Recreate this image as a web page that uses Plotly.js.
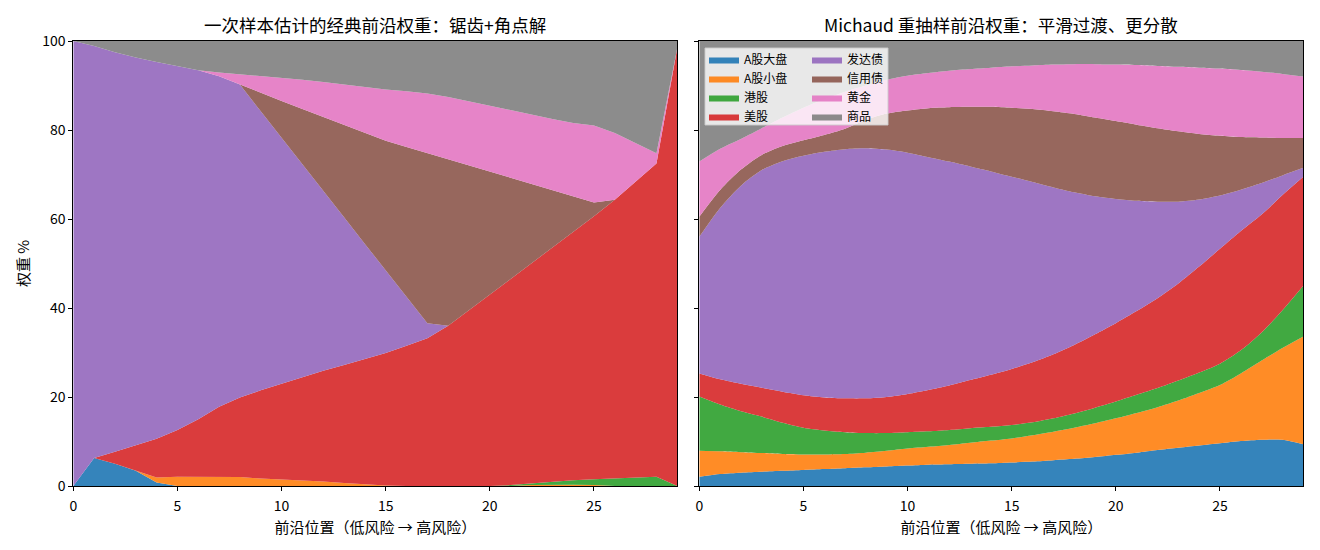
<!DOCTYPE html>
<html>
<head>
<meta charset="utf-8">
<script src="https://cdn.plot.ly/plotly-3.0.1.min.js"></script>
<style>html,body{margin:0;padding:0;background:#fff;}#chart{width:1320px;height:550px;}</style>
</head>
<body>
<div id="chart"></div>
<script>
// Frontier positions
const positions = [0,1,2,3,4,5,6,7,8,9,10,11,12,13,14,15,16,17,18,19,20,21,22,23,24,25,26,27,28,29];
const assetNames = ["A股大盘","A股小盘","港股","美股","发达债","信用债","黄金","商品"];

// Classic (one-sample) frontier weights, %
const cls_a_large = [0,6.3,5.0,3.4,0.8,0,0,0,0,0,0,0,0,0,0,0,0,0,0,0,0,0,0,0,0,0,0,0,0,0];
const cls_a_small = [0,0,0,0,1.1,2.1,2.1,2.0,2.0,1.7,1.5,1.3,1.0,0.7,0.4,0.1,0,0,0,0,0,0,0.2,0.3,0.3,0.2,0,0,0,0];
const cls_hk      = [0,0,0,0,0,0,0,0,0,0,0,0,0,0,0,0,0,0,0,0,0,0.2,0.4,0.7,1.0,1.3,1.7,1.9,2.1,0];
const cls_us      = [0,0,2.7,5.8,8.7,10.5,12.9,15.8,17.9,19.8,21.5,23.2,24.9,26.5,28.1,29.8,31.5,33.2,36.0,39.5,43.0,46.3,49.4,52.5,55.7,59.1,62.6,66.5,70.4,98.5];
const cls_dev     = [100,92.6,89.8,87.1,84.7,81.7,78.4,74.3,70.3,62.7,55.3,47.8,40.5,33.2,25.9,18.6,11.0,3.4,0,0,0,0,0,0,0,0,0,0,0,0];
const cls_credit  = [0,0,0,0,0,0,0,0,0,4.2,8.2,12.4,16.5,20.7,24.9,29.1,33.7,38.2,37.4,32.5,27.6,22.7,17.8,12.9,8.0,3.1,0,0,0,0];
const cls_gold    = [0,0,0,0,0,0,0,0.8,2.3,3.8,5.3,6.6,7.9,9.1,10.3,11.5,12.5,13.4,14.0,14.4,14.8,15.3,15.7,16.1,16.6,17.3,15.0,8.6,2.3,0];
const cls_comm    = [0,1.1,2.5,3.7,4.7,5.7,6.6,7.1,7.5,7.8,8.2,8.7,9.2,9.8,10.4,10.9,11.3,11.8,12.6,13.6,14.6,15.5,16.5,17.5,18.4,19.0,20.7,23.0,25.2,1.5];

// Michaud resampled frontier weights, %
const mic_a_large = [2.1,2.7,3.0,3.2,3.4,3.6,3.8,4.0,4.2,4.4,4.6,4.8,4.9,5.0,5.1,5.3,5.5,5.8,6.1,6.5,7.0,7.5,8.1,8.6,9.1,9.6,10.1,10.4,10.4,9.4];
const mic_a_small = [5.8,5.1,4.6,4.2,3.8,3.5,3.3,3.2,3.3,3.5,3.8,4.0,4.3,4.7,5.1,5.4,5.9,6.4,7.0,7.6,8.2,8.9,9.6,10.6,11.8,13.1,15.2,17.8,20.6,24.2];
const mic_hk      = [12.2,10.5,9.2,8.2,7.0,6.0,5.4,4.9,4.4,4.0,3.7,3.5,3.4,3.3,3.1,3.0,2.9,3.0,3.2,3.5,3.8,4.1,4.3,4.5,4.6,4.8,5.2,6.3,8.5,11.4];
const mic_us      = [5.2,5.7,6.2,6.5,7.0,7.3,7.4,7.6,7.8,8.1,8.6,9.3,10.0,10.8,11.7,12.6,13.5,14.4,15.4,16.5,17.6,18.8,20.2,21.8,23.8,25.8,26.8,26.5,25.9,24.5];
const mic_dev     = [30.7,38.5,44.5,48.9,51.8,53.8,55.2,56.0,56.2,55.6,54.2,52.3,50.3,48.0,45.7,43.2,40.5,37.5,34.3,31.0,27.9,24.8,21.7,18.4,15.1,12.0,9.3,7.1,4.4,2.0];
const mic_credit  = [4.5,4.0,3.6,3.4,3.4,3.5,3.8,4.6,6.4,8.1,9.5,11.0,12.2,13.4,14.5,15.5,16.4,17.1,17.6,17.7,17.5,17.1,16.5,15.8,14.7,13.4,11.8,10.2,8.4,6.7];
const mic_gold    = [12.4,9.3,6.9,6.0,6.4,7.3,8.0,8.3,7.7,7.6,7.8,7.9,8.2,8.5,8.8,9.3,9.8,10.5,11.2,12.0,12.7,13.4,14.0,14.5,14.9,15.1,15.1,14.8,14.4,13.8];
const mic_comm    = [27.1,24.2,22.0,19.6,17.2,15.0,13.1,11.4,10.0,8.7,7.8,7.2,6.7,6.3,6.0,5.7,5.5,5.3,5.2,5.2,5.3,5.4,5.6,5.8,6.0,6.2,6.5,6.9,7.4,8.0];

const classicSeries = [cls_a_large,cls_a_small,cls_hk,cls_us,cls_dev,cls_credit,cls_gold,cls_comm];
const michaudSeries = [mic_a_large,mic_a_small,mic_hk,mic_us,mic_dev,mic_credit,mic_gold,mic_comm];
const colors = ["31,119,180","255,127,14","44,160,44","214,39,40","148,103,189","140,86,75","227,119,194","127,127,127"];

const FONT = "'Noto Sans CJK SC', 'Noto Sans', sans-serif";
const W = 1320, H = 550;
const px = v => v / W, py = v => 1 - v / H;

const traces = [];
classicSeries.forEach((vals, i) => {
  traces.push({
    x: positions, y: vals, type: 'scatter', mode: 'lines',
    stackgroup: 'classic', xaxis: 'x', yaxis: 'y',
    name: assetNames[i], showlegend: false,
    line: {width: 0, color: 'rgba(' + colors[i] + ',0.9)'},
    fillcolor: 'rgba(' + colors[i] + ',0.9)',
    hoverinfo: 'skip'
  });
});
michaudSeries.forEach((vals, i) => {
  traces.push({
    x: positions, y: vals, type: 'scatter', mode: 'lines',
    stackgroup: 'michaud', xaxis: 'x2', yaxis: 'y2',
    name: assetNames[i], showlegend: true,
    legend: i < 4 ? 'legend' : 'legend2',
    line: {width: 0, color: 'rgba(' + colors[i] + ',0.9)', shape: 'spline', smoothing: 0.8},
    fillcolor: 'rgba(' + colors[i] + ',0.9)',
    hoverinfo: 'skip'
  });
});

const axisCommon = {
  showline: true, linecolor: '#000', linewidth: 1, mirror: true,
  ticks: 'outside', ticklen: 4, tickwidth: 1, tickcolor: '#000',
  showgrid: false, zeroline: false,
  tickfont: {family: FONT, size: 14, color: '#000'}
};
const xCommon = Object.assign({}, axisCommon, {
  range: [0, 29], tickvals: [0,5,10,15,20,25], ticklabelstandoff: 3,
  title: {text: '前沿位置（低风险 → 高风险）', font: {family: FONT, size: 15, color: '#000'}, standoff: 8}
});
const yCommon = Object.assign({}, axisCommon, {range: [0, 100], tickvals: [0,20,40,60,80,100]});

const legendCommon = {
  bgcolor: 'rgba(0,0,0,0)', borderwidth: 0,
  font: {family: FONT, size: 12, color: '#000'},
  xanchor: 'left', yanchor: 'top', yref: 'paper', xref: 'paper',
  tracegroupgap: 0, itemwidth: 30, traceorder: 'normal'
};

const layout = {
  width: W, height: H,
  margin: {l: 0, r: 0, t: 0, b: 0},
  paper_bgcolor: '#fff', plot_bgcolor: '#fff',
  font: {family: FONT, color: '#000'},
  xaxis: Object.assign({}, xCommon, {domain: [px(73.3), px(677.3)], anchor: 'y'}),
  yaxis: Object.assign({}, yCommon, {domain: [1 - 486/H, 1 - 41/H], anchor: 'x',
    title: {text: '权重 %', font: {family: FONT, size: 15, color: '#000'}, standoff: 8}}),
  xaxis2: Object.assign({}, xCommon, {domain: [px(699.3), px(1303.3)], anchor: 'y2'}),
  yaxis2: Object.assign({}, yCommon, {domain: [1 - 486/H, 1 - 41/H], anchor: 'x2', showticklabels: false}),
  legend: Object.assign({}, legendCommon, {x: px(704), y: py(45)}),
  legend2: Object.assign({}, legendCommon, {x: px(807), y: py(45)}),
  shapes: [{
    type: 'rect', xref: 'paper', yref: 'paper', layer: 'above',
    x0: px(705), x1: px(888), y0: py(125), y1: py(48),
    fillcolor: 'rgba(255,255,255,0.8)', line: {color: 'rgba(204,204,204,0.9)', width: 1}
  }],
  annotations: [
    {text: '一次样本估计的经典前沿权重：锯齿+角点解', xref: 'paper', yref: 'paper',
     x: px(375.3), y: py(25), xanchor: 'center', yanchor: 'middle', showarrow: false,
     font: {family: FONT, size: 17.5, color: '#000'}},
    {text: 'Michaud 重抽样前沿权重：平滑过渡、更分散', xref: 'paper', yref: 'paper',
     x: px(1001.3), y: py(25), xanchor: 'center', yanchor: 'middle', showarrow: false,
     font: {family: FONT, size: 17.5, color: '#000'}}
  ]
};

Plotly.newPlot('chart', traces, layout, {displayModeBar: false, staticPlot: true});
</script>
</body>
</html>
